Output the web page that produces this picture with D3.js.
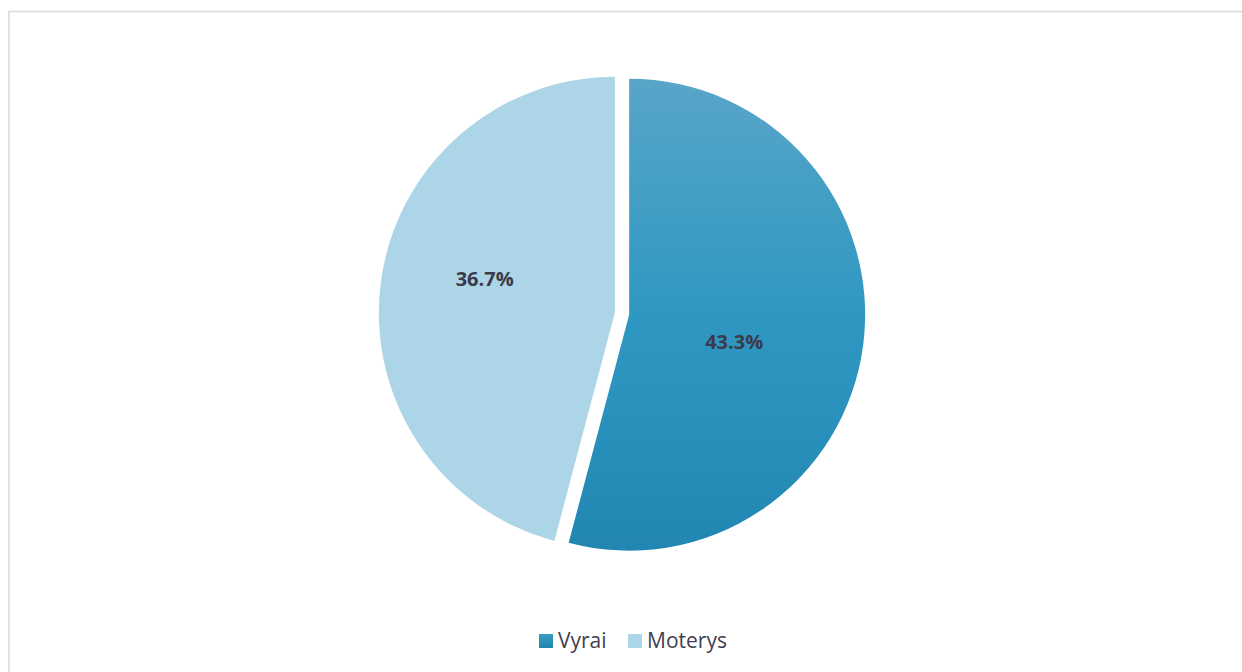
<!DOCTYPE html>
<html>
<head>
<meta charset="utf-8">
<script src="https://cdn.jsdelivr.net/npm/d3@7"></script>
<style>
  html, body { margin: 0; padding: 0; background: #ffffff; }
  svg { display: block; }
</style>
</head>
<body>
<svg id="chart" width="1242" height="672"></svg>
<script>
// Share of respondents by gender
const categories = ["Vyrai", "Moterys"];
const values = [43.3, 36.7];
const labels = ["43.3%", "36.7%"];

const W = 1242, H = 672;
const svg = d3.select("#chart");

// chart frame
svg.append("rect")
  .attr("x", 9).attr("y", 11.5)
  .attr("width", W + 10).attr("height", H + 10)
  .attr("fill", "#ffffff")
  .attr("stroke", "#dadae0")
  .attr("stroke-width", 1.6);

const defs = svg.append("defs");
const grad = defs.append("linearGradient")
  .attr("id", "gradVyrai")
  .attr("x1", 0).attr("y1", 0).attr("x2", 0).attr("y2", 1);
grad.append("stop").attr("offset", "0%").attr("stop-color", "#58a5c8");
grad.append("stop").attr("offset", "50%").attr("stop-color", "#2f98c2");
grad.append("stop").attr("offset", "100%").attr("stop-color", "#2187b2");

const fills = ["url(#gradVyrai)", "#acd6e7"];
const color = d3.scaleOrdinal().domain(categories).range(fills);

const cx = 622, cy = 313.7, r = 236, explode = 7.2;

const pie = d3.pie().sort(null).value(d => d.value);
const arc = d3.arc().innerRadius(0).outerRadius(r);
const data = categories.map((c, i) => ({ name: c, value: values[i], label: labels[i] }));
const arcs = pie(data);

const g = svg.append("g").attr("transform", `translate(${cx},${cy})`);

function offsetOf(a, dist) {
  const mid = (a.startAngle + a.endAngle) / 2;
  return [Math.sin(mid) * dist, -Math.cos(mid) * dist];
}

const slices = g.selectAll("g.slice").data(arcs).enter().append("g")
  .attr("class", "slice")
  .attr("transform", d => {
    const [dx, dy] = offsetOf(d, explode);
    return `translate(${dx},${dy})`;
  });

slices.append("path")
  .attr("d", arc)
  .attr("fill", d => color(d.data.name));

// data labels, placed inside each slice
const labelRadius = [0.46, 0.57];
const labelTurn = 0.125;
slices.append("text")
  .attr("x", (d, i) => {
    const mid = (d.startAngle + d.endAngle) / 2 + labelTurn;
    return Math.sin(mid) * r * labelRadius[i];
  })
  .attr("y", (d, i) => {
    const mid = (d.startAngle + d.endAngle) / 2 + labelTurn;
    return -Math.cos(mid) * r * labelRadius[i];
  })
  .attr("text-anchor", "middle")
  .attr("dominant-baseline", "central")
  .attr("font-family", "'Open Sans', sans-serif")
  .attr("font-weight", "bold")
  .attr("font-size", 20)
  .attr("fill", "#3a3a4a")
  .text(d => d.data.label);

// legend
const legGrad = defs.append("linearGradient")
  .attr("id", "gradLegend")
  .attr("x1", 0).attr("y1", 0).attr("x2", 0).attr("y2", 1);
legGrad.append("stop").attr("offset", "0%").attr("stop-color", "#3a9cc5");
legGrad.append("stop").attr("offset", "100%").attr("stop-color", "#1f86b0");
const legendFills = ["url(#gradLegend)", "#acd6e7"];

const legend = svg.append("g").attr("transform", "translate(539,641)");
const items = legend.selectAll("g").data(categories).enter().append("g")
  .attr("transform", (d, i) => `translate(${i === 0 ? 0 : 89},0)`);
items.append("rect")
  .attr("x", 0).attr("y", -7)
  .attr("width", 14).attr("height", 14)
  .attr("fill", (d, i) => legendFills[i]);
items.append("text")
  .attr("x", 19).attr("y", 7)
  .attr("font-family", "'Open Sans', sans-serif")
  .attr("font-size", 21)
  .attr("fill", "#3f3f4f")
  .text(d => d);
</script>
</body>
</html>
